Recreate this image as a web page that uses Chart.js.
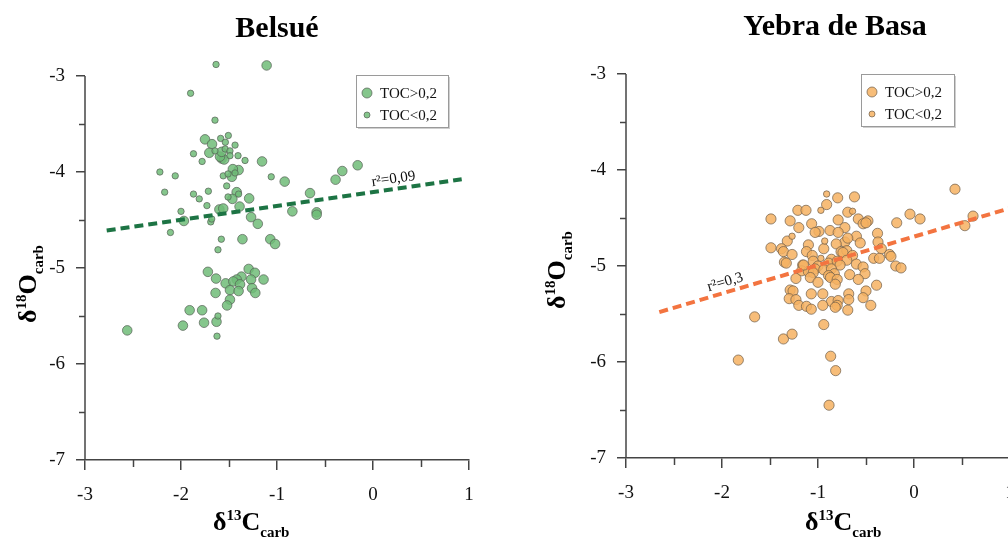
<!DOCTYPE html>
<html>
<head>
<meta charset="utf-8">
<script src="https://cdn.jsdelivr.net/npm/chart.js@4.4.1/dist/chart.umd.min.js"></script>
<style>
  html, body { margin: 0; padding: 0; background: #fff; overflow: hidden; width: 1008px; height: 547px; }
  #left { position: absolute; left: 0; top: 0; }
  #right { position: absolute; left: 504px; top: 0; }
</style>
</head>
<body>
<canvas id="left" width="504" height="547"></canvas>
<canvas id="right" width="560" height="547"></canvas>
<script>
// Belsué: d13C, d18O pairs
var belsueHighToc = [
  [-1.108,-2.89], [-1.75,-3.66], [-1.677,-3.71], [-1.705,-3.80], [-1.576,-3.86], [-1.55,-3.87],
  [-1.594,-3.84], [-1.576,-3.79], [-1.156,-3.89], [-1.40,-3.98], [-1.46,-3.97], [-1.47,-4.05],
  [-0.92,-4.10], [-0.39,-4.08], [-0.32,-3.99], [-0.16,-3.93], [-1.42,-4.21], [-1.465,-4.28],
  [-1.29,-4.275], [-1.39,-4.36], [-0.656,-4.22], [-0.84,-4.41], [-0.587,-4.42], [-0.587,-4.445],
  [-1.97,-4.51], [-1.60,-4.39], [-1.56,-4.38], [-1.27,-4.47], [-1.20,-4.54], [-1.36,-4.70],
  [-1.07,-4.70], [-1.02,-4.75], [-1.72,-5.04], [-1.635,-5.11], [-1.295,-5.01], [-1.23,-5.05],
  [-1.37,-5.09], [-1.42,-5.12], [-1.14,-5.12], [-1.27,-5.12], [-1.535,-5.16], [-1.455,-5.14],
  [-1.385,-5.17], [-1.26,-5.21], [-1.226,-5.26], [-1.49,-5.23], [-1.40,-5.24], [-1.64,-5.26],
  [-1.49,-5.33], [-1.52,-5.39], [-1.91,-5.44], [-1.78,-5.44], [-1.63,-5.56], [-1.76,-5.57],
  [-1.98,-5.60], [-2.56,-5.65]
];
var belsueLowToc = [
  [-1.635,-2.88], [-1.90,-3.18], [-1.646,-3.46], [-1.507,-3.62], [-1.587,-3.65], [-1.538,-3.69],
  [-1.437,-3.72], [-1.87,-3.81], [-1.646,-3.78], [-1.54,-3.76], [-1.49,-3.78], [-1.406,-3.83],
  [-1.49,-3.83], [-1.78,-3.89], [-1.333,-3.88], [-2.22,-4.00], [-2.06,-4.04], [-1.437,-4.01],
  [-1.56,-4.04], [-1.51,-4.02], [-1.06,-4.05], [-2.17,-4.21], [-1.87,-4.23], [-1.715,-4.20],
  [-1.81,-4.28], [-1.73,-4.35], [-1.524,-4.145], [-1.40,-4.23], [-1.51,-4.26], [-2.00,-4.41],
  [-1.69,-4.52], [-1.68,-4.49], [-2.11,-4.63], [-1.58,-4.70], [-1.615,-4.81], [-1.615,-5.50],
  [-1.625,-5.71]
];
var belsueTrend = [[-2.774,-4.609], [0.924,-4.076]];

// Yebra de Basa: d13C, d18O pairs
var yebraHighToc = [
  [0.427,-4.20], [-1.83,-5.98], [-1.66,-5.53], [-1.36,-5.76], [-1.27,-5.71], [-0.868,-5.94],
  [-0.816,-6.09], [-0.885,-6.45], [-0.94,-5.61], [0.615,-4.48], [0.53,-4.58], [-0.042,-4.46],
  [0.063,-4.51], [-0.18,-4.55], [-0.19,-5.00], [-0.135,-5.02], [-1.49,-4.51], [-1.49,-4.81],
  [-0.795,-4.29], [-0.62,-4.28], [-0.91,-4.36], [-1.21,-4.42], [-1.125,-4.42], [-0.69,-4.44],
  [-0.79,-4.52], [-0.58,-4.51], [-0.48,-4.53], [-0.53,-4.56], [-0.50,-4.55], [-1.29,-4.53],
  [-1.066,-4.56], [-1.20,-4.60], [-0.72,-4.60], [-0.99,-4.64], [-1.03,-4.65], [-0.875,-4.63],
  [-0.79,-4.65], [-0.38,-4.66], [-0.60,-4.69], [-1.32,-4.74], [-0.72,-4.75], [-0.69,-4.71],
  [-0.56,-4.76], [-0.375,-4.75], [-1.10,-4.78], [-0.81,-4.77], [-0.94,-4.82], [-1.38,-4.82],
  [-1.36,-4.85], [-1.12,-4.85], [-0.34,-4.82], [-0.76,-4.85], [-0.70,-4.84], [-0.74,-4.86],
  [-1.27,-4.88], [-0.64,-4.89], [-0.255,-4.88], [-0.24,-4.90], [-1.06,-4.89], [-0.42,-4.92],
  [-0.36,-4.92], [-0.86,-4.93], [-1.05,-4.95], [-1.35,-4.96], [-1.33,-4.97], [-0.89,-4.97],
  [-0.80,-4.95], [-0.70,-4.94], [-1.16,-4.99], [-1.00,-5.00], [-0.77,-4.99], [-0.60,-4.98],
  [-0.53,-5.01], [-1.03,-5.03], [-0.94,-5.04], [-0.86,-5.03], [-1.17,-5.05], [-1.10,-5.06],
  [-1.05,-5.07], [-0.83,-5.08], [-0.67,-5.09], [-0.51,-5.08], [-0.89,-5.10], [-1.08,-5.12],
  [-0.87,-5.12], [-1.23,-5.13], [-0.80,-5.14], [-0.58,-5.14], [-1.00,-5.17], [-0.82,-5.19],
  [-0.39,-5.20], [-1.29,-5.25], [-1.26,-5.26], [-0.50,-5.26], [-1.07,-5.29], [-0.95,-5.29],
  [-0.68,-5.29], [-1.30,-5.34], [-1.23,-5.35], [-0.68,-5.35], [-0.53,-5.33], [-0.86,-5.37],
  [-0.79,-5.36], [-1.20,-5.41], [-1.12,-5.42], [-1.07,-5.45], [-0.95,-5.41], [-0.80,-5.41],
  [-0.69,-5.46], [-0.45,-5.41], [-0.82,-5.43], [-1.15,-4.99]
];
var yebraLowToc = [
  [-0.91,-4.25], [-0.97,-4.42], [-0.64,-4.43], [-1.27,-4.69], [-0.93,-4.74], [-0.97,-4.92]
];
var yebraTrend = [[-2.653,-5.48], [1.0,-4.398]];

var xTickValues = [-3, -2, -1, 0, 1];
var yTickValues = [-7, -6, -5, -4, -3];
var legendLabels = ['TOC>0,2', 'TOC<0,2'];

var SERIF = '"Liberation Serif", "Times New Roman", serif';
var AXIS = '#444';

function toXY(pairs) {
  return pairs.map(function (p) { return { x: p[0], y: p[1] }; });
}

function fixedTicks(values) {
  return function (s) { s.ticks = values.map(function (v) { return { value: v }; }); };
}

function drawRich(ctx, parts, x, y) {
  var cx = x;
  parts.forEach(function (p) {
    ctx.font = 'bold ' + p.size + 'px ' + SERIF;
    ctx.fillText(p.t, cx, y + (p.dy || 0));
    cx += ctx.measureText(p.t).width;
  });
}

var decor = {
  id: 'decor',
  afterDraw: function (chart, args, o) {
    var ctx = chart.ctx;
    var xs = chart.scales.x, ys = chart.scales.y;
    var area = chart.chartArea;
    ctx.save();

    // y axis line only over the labelled range
    var yTop = ys.getPixelForValue(ys.ticks[ys.ticks.length - 1].value);
    ctx.strokeStyle = AXIS;
    ctx.lineWidth = 1.5;
    ctx.beginPath(); ctx.moveTo(area.left, yTop); ctx.lineTo(area.left, area.bottom); ctx.stroke();

    // minor ticks halfway between the major ones
    for (var i = 0; i < ys.ticks.length - 1; i++) {
      var py = Math.round(ys.getPixelForValue((ys.ticks[i].value + ys.ticks[i + 1].value) / 2)) + 0.5;
      ctx.beginPath(); ctx.moveTo(area.left - 6, py); ctx.lineTo(area.left, py); ctx.stroke();
    }
    for (var j = 0; j < xs.ticks.length - 1; j++) {
      var px = Math.round(xs.getPixelForValue((xs.ticks[j].value + xs.ticks[j + 1].value) / 2)) + 0.5;
      ctx.beginPath(); ctx.moveTo(px, area.bottom); ctx.lineTo(px, area.bottom + 7); ctx.stroke();
    }

    ctx.fillStyle = '#000';
    ctx.textBaseline = 'alphabetic';

    // title
    ctx.textAlign = 'center';
    ctx.font = 'bold 30px ' + SERIF;
    ctx.fillText(o.title, o.titleX, o.titleY);

    // axis titles
    ctx.textAlign = 'left';
    drawRich(ctx, [{ t: 'δ', size: 26 }, { t: '13', size: 15, dy: -10 }, { t: 'C', size: 26 }, { t: 'carb', size: 15, dy: 7 }], o.xTitleX, o.xTitleY);
    ctx.save();
    ctx.translate(o.yTitleX, o.yTitleY);
    ctx.rotate(-Math.PI / 2);
    drawRich(ctx, [{ t: 'δ', size: 26 }, { t: '18', size: 15, dy: -10 }, { t: 'O', size: 26 }, { t: 'carb', size: 15, dy: 7 }], 0, 0);
    ctx.restore();

    // legend
    var lx = o.legend.x, ly = o.legend.y, lw = o.legend.w, lh = o.legend.h;
    ctx.fillStyle = '#cfcfcf';
    ctx.fillRect(lx + 2, ly + 2, lw, lh);
    ctx.fillStyle = '#fff';
    ctx.fillRect(lx, ly, lw, lh);
    ctx.strokeStyle = '#9a9a9a';
    ctx.lineWidth = 1;
    ctx.strokeRect(lx + 0.5, ly + 0.5, lw, lh);
    [o.bigR, o.smallR].forEach(function (r, k) {
      var cy = ly + 18 + k * 22;
      ctx.beginPath();
      ctx.arc(lx + 11, cy, r, 0, Math.PI * 2);
      ctx.fillStyle = o.fill;
      ctx.fill();
      ctx.strokeStyle = o.edge;
      ctx.stroke();
      ctx.fillStyle = '#111';
      ctx.font = '15px ' + SERIF;
      ctx.textBaseline = 'middle';
      ctx.fillText(legendLabels[k], lx + 24, cy + 1);
    });

    // r² label along the trend line
    var t = o.trend;
    var p1x = xs.getPixelForValue(t[0][0]), p1y = ys.getPixelForValue(t[0][1]);
    var p2x = xs.getPixelForValue(t[1][0]), p2y = ys.getPixelForValue(t[1][1]);
    var ang = Math.atan2(p2y - p1y, p2x - p1x);
    var f = (o.r2x - t[0][0]) / (t[1][0] - t[0][0]);
    var ry = t[0][1] + f * (t[1][1] - t[0][1]);
    ctx.translate(xs.getPixelForValue(o.r2x), ys.getPixelForValue(ry));
    ctx.rotate(ang);
    ctx.textBaseline = 'alphabetic';
    ctx.fillStyle = '#111';
    ctx.font = '15px ' + SERIF;
    ctx.fillText(o.r2, 0, -6);
    ctx.restore();
  }
};

function makeChart(id, c) {
  var tickFont = { family: SERIF, size: 19 };
  return new Chart(document.getElementById(id), {
    type: 'scatter',
    data: {
      datasets: [{
        data: toXY(c.trend),
        showLine: true,
        borderColor: c.lineColor,
        borderWidth: 4,
        borderDash: [9, 5],
        pointRadius: 0
      }, {
        data: toXY(c.small),
        pointRadius: c.smallR,
        backgroundColor: c.fill,
        borderColor: c.edge,
        borderWidth: 1
      }, {
        data: toXY(c.big),
        pointRadius: c.bigR,
        backgroundColor: c.fill,
        borderColor: c.edge,
        borderWidth: 1
      }]
    },
    options: {
      responsive: false,
      animation: false,
      events: [],
      layout: { padding: { left: 0, top: c.top, right: c.right, bottom: 0 } },
      plugins: {
        legend: { display: false },
        tooltip: { enabled: false },
        decor: c.decor
      },
      scales: {
        x: {
          type: 'linear', min: -3, max: 1,
          ticks: { font: tickFont, color: '#111', padding: 14, maxRotation: 0 },
          grid: { drawOnChartArea: false, tickLength: 10, color: AXIS, lineWidth: 1.5 },
          border: { color: AXIS, width: 1.5 },
          afterBuildTicks: fixedTicks(xTickValues),
          afterFit: function (s) { s.height = c.xAxisH; }
        },
        y: {
          // a little head-room above -3 so the highest samples are drawn
          type: 'linear', min: -7, max: -2.8,
          ticks: { font: tickFont, color: '#111', padding: 11 },
          grid: { drawOnChartArea: false, tickLength: 9, color: AXIS, lineWidth: 1.5 },
          border: { display: false },
          afterBuildTicks: fixedTicks(yTickValues),
          afterFit: function (s) { s.width = c.yAxisW; }
        }
      }
    },
    plugins: [decor]
  });
}

var greenFill = 'rgba(112,188,120,0.85)', greenEdge = 'rgba(85,95,85,0.7)';
var orangeFill = 'rgba(246,178,98,0.85)', orangeEdge = 'rgba(110,92,72,0.7)';

makeChart('left', {
  big: belsueHighToc, small: belsueLowToc, trend: belsueTrend,
  bigR: 4.8, smallR: 3.2, fill: greenFill, edge: greenEdge, lineColor: '#1d7444',
  top: 56.8, right: 35, xAxisH: 87, yAxisW: 85,
  decor: {
    title: 'Belsué', titleX: 277, titleY: 37,
    xTitleX: 213, xTitleY: 530, yTitleX: 36, yTitleY: 323,
    legend: { x: 356, y: 75, w: 92, h: 52 },
    bigR: 5, smallR: 3, fill: greenFill, edge: greenEdge,
    trend: belsueTrend, r2x: 0.0, r2: 'r²=0,09'
  }
});

makeChart('right', {
  big: yebraHighToc, small: yebraLowToc, trend: yebraTrend,
  bigR: 5.1, smallR: 3.2, fill: orangeFill, edge: orangeEdge, lineColor: '#f37440',
  top: 54.8, right: 54, xAxisH: 89, yAxisW: 122,
  decor: {
    title: 'Yebra de Basa', titleX: 331, titleY: 35,
    xTitleX: 301, xTitleY: 530, yTitleX: 61, yTitleY: 309,
    legend: { x: 357, y: 74, w: 93, h: 52 },
    bigR: 5, smallR: 3, fill: orangeFill, edge: orangeEdge,
    trend: yebraTrend, r2x: -2.12, r2: 'r²=0,3'
  }
});
</script>
</body>
</html>
